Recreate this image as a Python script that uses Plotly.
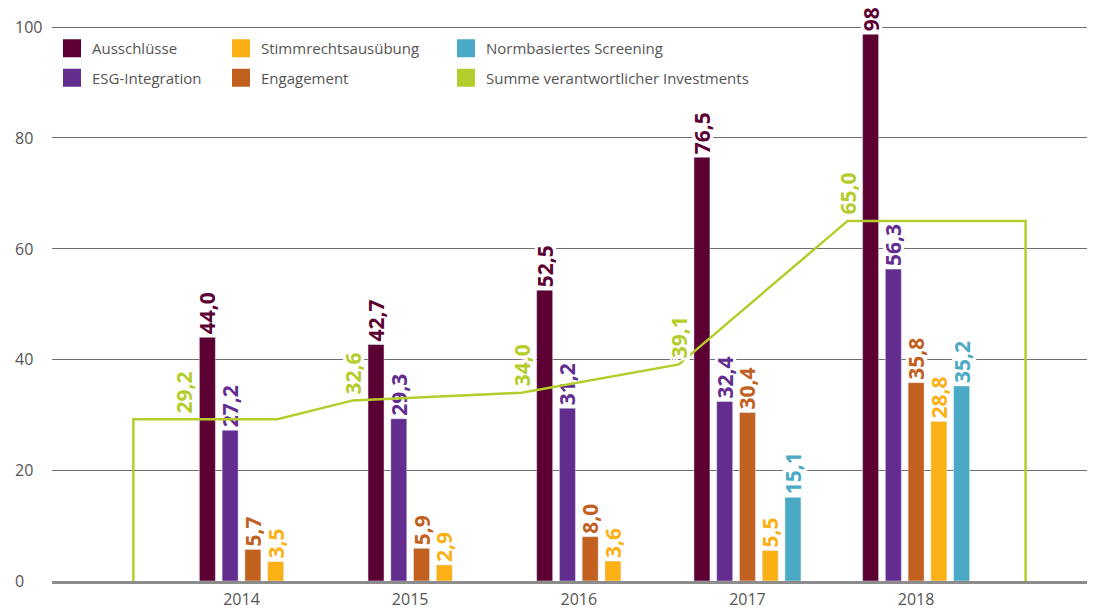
import plotly.graph_objects as go

# data
years = [2014, 2015, 2016, 2017, 2018]
ausschluesse = [44.0, 42.7, 52.5, 76.5, 98.7]
esg_integration = [27.2, 29.3, 31.2, 32.4, 56.3]
engagement = [5.7, 5.9, 8.0, 30.4, 35.8]
stimmrecht = [3.5, 2.9, 3.6, 5.5, 28.8]
normbasiert = [None, None, None, 15.1, 35.2]
summe = [29.2, 32.6, 34.0, 39.1, 65.0]
y_ticks = [0, 20, 40, 60, 80, 100]

series = [
    ("Ausschlüsse", ausschluesse, "#5c0033", "legend", 1),
    ("ESG-Integration", esg_integration, "#632d8f", "legend", 2),
    ("Engagement", engagement, "#c2601f", "legend2", 2),
    ("Stimmrechtsausübung", stimmrecht, "#fbb116", "legend2", 1),
    ("Normbasiertes Screening", normbasiert, "#4aaac5", "legend3", 1),
]
lime = "#b5cd2c"

# geometry (pixels -> year units); page body has an 8px margin
PX = 168.65
bar_w = 16 / PX
pitch = 22.75 / PX
PLOT_W = 1043
PLOT_H = 573

halo = ", ".join(f"{dx}px {dy}px 0 #fff" for dx in (-3, 0, 3) for dy in (-3, 0, 3))
label_font = dict(family="Open Sans", size=21, weight="bold")

def fmt(v):
    return f"{v:.1f}".replace(".", ",")

# per-year bar offsets, centred on the bars actually present
offsets = {}
first_left = []
for i, yr in enumerate(years):
    present = [k for k, s in enumerate(series) if s[1][i] is not None]
    n = len(present)
    start = -(n - 1) * pitch / 2 - bar_w / 2
    first_left.append(yr + start)
    for j, k in enumerate(present):
        offsets[(k, i)] = start + j * pitch

fig = go.Figure()

# total line
vx = [fl - 15 / PX for fl in first_left]
line_x = [vx[0] - 51 / PX, vx[0] - 51 / PX, vx[0], vx[0] + 93 / PX] + vx[1:] + [vx[-1] + 178 / PX, vx[-1] + 178 / PX]
line_y = [0, summe[0], summe[0], summe[0]] + summe[1:] + [summe[-1], 0]
fig.add_trace(go.Scatter(x=line_x, y=line_y, mode="lines", line=dict(color=lime, width=2.5),
                         showlegend=False, hoverinfo="skip"))

for k, (name, vals, col, lg, rank) in enumerate(series):
    xs, ys, offs, txt = [], [], [], []
    for i, v in enumerate(vals):
        if v is None:
            continue
        xs.append(years[i]); ys.append(v); offs.append(offsets[(k, i)]); txt.append(fmt(v))
    fig.add_trace(go.Bar(
        x=xs, y=ys, name=name, marker_color=col, width=bar_w, offset=offs,
        text=txt, textposition="outside", textangle=-90, constraintext="none",
        textfont=dict(color=col, shadow=halo, **label_font), cliponaxis=False,
        showlegend=False,
    ))

# legend entries (square swatches)
legend_items = [(s[0], s[2], s[3], s[4]) for s in series] + \
    [("Summe verantwortlicher Investments", lime, "legend3", 2)]
for name, col, lg, rank in legend_items:
    fig.add_trace(go.Scatter(
        x=[None], y=[None], mode="markers", name=name,
        marker=dict(symbol="square", size=16, color=col, line=dict(color=col, width=2)),
        legend=lg, legendrank=rank, legendgroup=name,
    ))

for x, s in zip(vx, summe):
    fig.add_annotation(x=x, y=s, text=fmt(s), showarrow=False, textangle=-90,
                       xanchor="center", yanchor="bottom", yshift=4,
                       font=dict(color=lime, shadow=halo, **label_font))

for t in y_ticks:
    fig.add_annotation(x=-39 / PLOT_W, xref="paper", y=t, yref="y", text=str(t),
                       showarrow=False, xanchor="left", yanchor="middle",
                       font=dict(family="Open Sans", size=16, color="#555"))

leg = dict(yanchor="top", xanchor="left", y=1 - 24 / PLOT_H,
           bgcolor="rgba(0,0,0,0)", tracegroupgap=7,
           font=dict(family="Open Sans", size=15, color="#555"))

fig.update_layout(
    width=1087, height=602,
    margin=dict(l=44, r=0, t=0, b=29, autoexpand=False),
    plot_bgcolor="white", paper_bgcolor="white",
    barmode="overlay",
    xaxis=dict(range=[2014 - 189.5 / PX, 2014 + 853.5 / PX], tickmode="array", tickvals=years,
               ticktext=[str(y) for y in years], showgrid=False, zeroline=False,
               showline=True, linecolor="#8c8c8c", linewidth=3, ticks="", ticklabelstandoff=2,
               tickfont=dict(family="Open Sans", size=16, color="#555")),
    yaxis=dict(range=[0, PLOT_H / 5.54], tickvals=y_ticks, showticklabels=False,
               showgrid=True, gridcolor="#6e6e6e", gridwidth=1, zeroline=False),
    legend=dict(leg, x=0),
    legend2=dict(leg, x=(221 - 52) / PLOT_W),
    legend3=dict(leg, x=(446 - 52) / PLOT_W),
    showlegend=True,
)

fig.write_html("out.html")
